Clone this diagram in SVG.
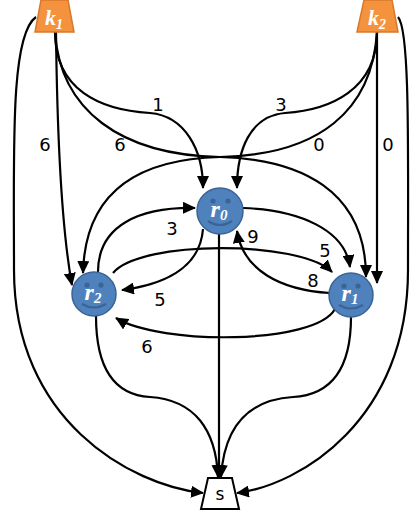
<svg xmlns="http://www.w3.org/2000/svg" width="410" height="516" viewBox="0 0 410 516">
<style>
.e{fill:none;stroke:#000;stroke-width:2.2;marker-end:url(#ah)}
.lbl{font-family:"DejaVu Sans",Verdana,sans-serif;font-size:18px;fill:#000;text-anchor:middle}
.kn{fill:#F5923E;stroke:#D9782B;stroke-width:1.5}
.rn{fill:#4F81BD;stroke:#3B6496;stroke-width:1.5}
.eye{fill:#3B6496}
.smile{fill:none;stroke:#3B6496;stroke-width:2.2}
.nt{font-family:"Liberation Serif","Times New Roman",serif;font-style:italic;font-weight:bold;fill:#fff;text-anchor:middle}
.st{font-family:"DejaVu Sans",Verdana,sans-serif;font-size:17px;fill:#000;text-anchor:middle}
</style>
<defs>
<marker id="ah" markerUnits="userSpaceOnUse" markerWidth="13" markerHeight="12" refX="12" refY="6" orient="auto">
<path d="M0,0 L13,6 L0,12 z" fill="#000"/>
</marker>
</defs>
<g id="connectors">
<path class="e" d="M36,17 C10,35 14,150 14,270 C14,420 130,485 203,493"/>
<path class="e" d="M398,17 C410,30 408,150 408,270 C408,420 300,485 237,493"/>
<path class="e" d="M56,32 C57,120 60,220 72,285"/>
<path class="e" d="M55,32 C55,90 100,110 150,113 C185,116 203,150 203,188"/>
<path class="e" d="M55,32 C60,110 120,155 220,157 C300,159 366,190 366,277"/>
<path class="e" d="M377,32 C377,90 330,110 285,113 C250,116 237,150 237,188"/>
<path class="e" d="M377,32 C372,110 320,155 220,157 C140,159 85,190 83,273"/>
<path class="e" d="M377,32 L377,283"/>
<path class="e" d="M98,272 C98,225 140,207 195,208"/>
<path class="e" d="M203,229 C200,270 160,285 122,290"/>
<path class="e" d="M243,208 C300,210 345,230 350,267"/>
<path class="e" d="M330,293 C280,290 243,270 237,231"/>
<path class="e" d="M113,273 C140,240 300,240 332,272"/>
<path class="e" d="M335,309 C315,345 160,345 116,318"/>
<path class="e" d="M219,234 L219,477"/>
<path class="e" d="M96,316 C96,370 115,395 150,397 C195,400 216,430 218,477"/>
<path class="e" d="M351,317 C351,370 330,395 293,397 C245,400 224,430 221,477"/>
</g>
<g id="labels">
<text class="lbl" x="158" y="111">1</text>
<text class="lbl" x="281" y="111">3</text>
<text class="lbl" x="45" y="151">6</text>
<text class="lbl" x="120" y="151">6</text>
<text class="lbl" x="319" y="151">0</text>
<text class="lbl" x="388" y="151">0</text>
<text class="lbl" x="172" y="235">3</text>
<text class="lbl" x="160" y="306">5</text>
<text class="lbl" x="253" y="243">9</text>
<text class="lbl" x="325" y="257">5</text>
<text class="lbl" x="313" y="287">8</text>
<text class="lbl" x="147" y="353">6</text>
</g>
<g id="k1">
<path class="kn" d="M41,0 L68,0 L74,32 L35,32 z"/>
<text class="nt" x="54" y="25" font-size="22">k<tspan font-size="14" dy="4">1</tspan></text>
</g>
<g id="k2">
<path class="kn" d="M364,0 L392,0 L398,32 L357,32 z"/>
<text class="nt" x="377" y="25" font-size="22">k<tspan font-size="14" dy="4">2</tspan></text>
</g>
<g id="r0">
<circle class="rn" cx="220" cy="211" r="23"/>
<circle class="eye" cx="213" cy="201" r="2.6"/>
<circle class="eye" cx="228" cy="201" r="2.6"/>
<path class="smile" d="M208,221 Q220,229 232,221"/>
<text class="nt" x="219" y="217" font-size="24">r<tspan font-size="15" dy="3">0</tspan></text>
</g>
<g id="r2">
<circle class="rn" cx="94" cy="294" r="22"/>
<circle class="eye" cx="87" cy="285" r="2.6"/>
<circle class="eye" cx="101" cy="285" r="2.6"/>
<path class="smile" d="M82,304 Q94,311 106,304"/>
<text class="nt" x="93" y="300" font-size="24">r<tspan font-size="15" dy="3">2</tspan></text>
</g>
<g id="r1">
<circle class="rn" cx="351" cy="295" r="22"/>
<circle class="eye" cx="344" cy="286" r="2.6"/>
<circle class="eye" cx="358" cy="286" r="2.6"/>
<path class="smile" d="M339,305 Q351,312 363,305"/>
<text class="nt" x="350" y="301" font-size="24">r<tspan font-size="15" dy="3">1</tspan></text>
</g>
<g id="s">
<path d="M208,478 L232,478 L239,509 L201,509 z" fill="#fff" stroke="#000" stroke-width="2"/>
<text class="st" x="220" y="500">s</text>
</g>
</svg>
